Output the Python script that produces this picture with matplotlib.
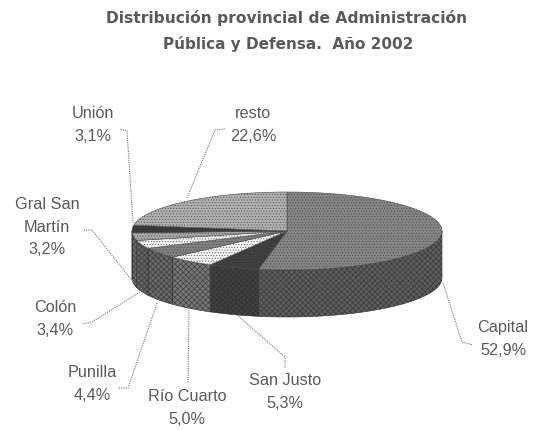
import matplotlib
matplotlib.use("Agg")
import matplotlib.pyplot as plt
from matplotlib.patches import Polygon
import numpy as np

plt.rcParams['font.family'] = ['Liberation Sans', 'DejaVu Sans']
plt.rcParams['hatch.linewidth'] = 0.35

# provinces, clockwise starting from 12 o'clock
names = ["Capital", "San Justo", "Río Cuarto", "Punilla", "Colón", "Gral San\nMartín", "Unión", "resto"]
shares = [52.9, 5.3, 5.0, 4.4, 3.4, 3.2, 3.1, 22.6]
share_labels = ["52,9%", "5,3%", "5,0%", "4,4%", "3,4%", "3,2%", "3,1%", "22,6%"]

top_colors = ["#858585", "#3c3c3c", "#f4f4f4", "#808080", "#f0f0f0", "#a8a8a8", "#383838", "#b0b0b0"]
side_colors = ["#5c5c5c", "#404040", "#757575", "#686868", "#626262", "#6a6a6a", "#3c3c3c", "#8a8a8a"]

# label anchor (center) and leader line for each slice
label_pos = [(503, 339), (285, 392), (187, 408), (92, 384), (55, 319), (47, 227), (93, 125), (253, 125)]
leaders = [
    [(443, 283), (462, 342), (473, 345)],
    [(237, 315), (285, 357), (285, 368)],
    [(189, 308), (188, 383)],
    [(157, 303), (128, 388), (118, 388)],
    [(140, 292), (92, 322), (82, 324)],
    [(133, 282), (92, 230), (83, 230)],
    [(133, 223), (127, 131), (120, 129)],
    [(187, 198), (215, 130), (225, 129)],
]

cx, cy = 287, 231
rx, ry = 155, 39
depth = 47

fig = plt.figure(figsize=(5.38, 4.30), dpi=100)
ax = fig.add_axes([0, 0, 1, 1])
ax.set_xlim(0, 538)
ax.set_ylim(430, 0)
ax.axis("off")

fracs = np.array(shares) / sum(shares)
ends = 90 - 360 * np.cumsum(fracs)
starts = np.r_[90, ends[:-1]]


def rim(a0, a1):
    t = np.radians(np.linspace(a0, a1, 80))
    return np.c_[cx + rx * np.cos(t), cy - ry * np.sin(t)]


# side wall, only the front half of the ellipse shows
for i in range(len(shares)):
    a0 = min(starts[i], 0)
    a1 = max(ends[i], -180)
    if a1 >= a0:
        continue
    edge = rim(a0, a1)
    low = edge + [0, depth]
    ax.add_patch(Polygon(np.r_[edge, low[::-1]], fc=side_colors[i], ec="#2e2e2e", lw=0.4, hatch="xxxxxx"))

# top face
for i in range(len(shares)):
    edge = rim(starts[i], ends[i])
    ax.add_patch(Polygon(np.r_[[[cx, cy]], edge], fc=top_colors[i], ec="#4a4a4a", lw=0.4, hatch="......"))

for i in range(len(names)):
    xs, ys = zip(*leaders[i])
    ax.plot(xs, ys, color="#777777", lw=0.8, ls=(0, (1, 1)))
    ax.text(label_pos[i][0], label_pos[i][1], names[i] + "\n" + share_labels[i], ha="center", va="center",
            fontsize=11.7, color="#5a5a5a", linespacing=1.6)

ax.text(287, 18, "Distribución provincial de Administración", ha="center", va="center",
        fontsize=11.2, fontweight="bold", color="#5a5a5a", family="DejaVu Sans")
ax.text(288, 44, "Pública y Defensa.  Año 2002", ha="center", va="center",
        fontsize=11, fontweight="bold", color="#5a5a5a", family="DejaVu Sans")

fig.savefig("out.png", dpi=100)
